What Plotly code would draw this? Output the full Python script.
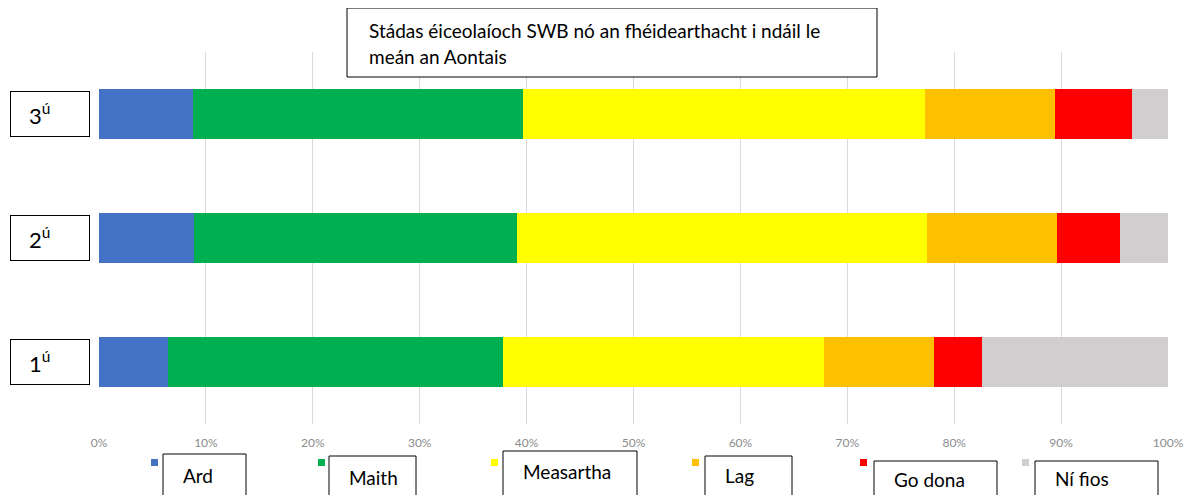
import plotly.graph_objects as go

# data (percent of water bodies)
categories = ["1ú", "2ú", "3ú"]
series_names = ["Ard", "Maith", "Measartha", "Lag", "Go dona", "Ní fios"]
ard = [6.5, 8.9, 8.8]
maith = [31.3, 30.2, 30.9]
measartha = [30.0, 38.4, 37.6]
lag = [10.3, 12.1, 12.1]
go_dona = [4.5, 5.9, 7.2]
ni_fios = [17.4, 4.5, 3.4]
x_ticks = [0, 10, 20, 30, 40, 50, 60, 70, 80, 90, 100]
x_tick_labels = [f"{v}%" for v in x_ticks]
title_lines = ["Stádas éiceolaíoch SWB nó an fhéidearthacht i ndáil le", "meán an Aontais"]

colors = ["#4472C4", "#00B050", "#FFFF00", "#FFC000", "#FF0000", "#D0CECE"]
series = [ard, maith, measartha, lag, go_dona, ni_fios]

FONT = "Lato"
W, H = 1192, 495
OFF = 8  # page body margin
L, R, T, B = 99 - OFF, 1168 - OFF, 52 - OFF, 424 - OFF


def px(x):
    return (x - OFF - L) / (R - L)


def py(y):
    return (B - (y - OFF)) / (B - T)


fig = go.Figure()
for name, vals, col in zip(series_names, series, colors):
    fig.add_trace(go.Bar(y=categories, x=vals, name=name, orientation="h",
                         marker=dict(color=col, line=dict(width=0)), width=0.4))

fig.update_layout(
    barmode="stack", width=W, height=H, showlegend=False,
    margin=dict(l=L, r=W - R, t=T, b=H - B),
    plot_bgcolor="white", paper_bgcolor="white",
    font=dict(family=FONT, color="black"),
)
fig.update_xaxes(range=[0, 100], tickvals=x_ticks, ticktext=x_tick_labels, showgrid=True,
                 gridcolor="#d9d9d9", gridwidth=1, zeroline=False, showline=False,
                 tickfont=dict(size=12, color="#8c8c8c"), ticklabelstandoff=10)
fig.update_yaxes(range=[-0.5, 2.5], showticklabels=False, showgrid=False, zeroline=False)

# title box
fig.add_shape(type="rect", xref="paper", yref="paper", x0=px(347), x1=px(877),
              y0=py(77), y1=py(8), line=dict(color="black", width=1), fillcolor="white")
for i, line in enumerate(title_lines):
    fig.add_annotation(xref="paper", yref="paper", x=px(367), y=py(30 + 27 * i),
                       xanchor="left", yanchor="middle", showarrow=False, text=line,
                       font=dict(size=19, color="black"))

# category label boxes
for cat in categories:
    fig.add_annotation(xref="paper", yref="y", x=px(10), y=cat, xanchor="left",
                       yanchor="middle", showarrow=False,
                       text="&nbsp;&nbsp;&nbsp;" + cat[0] + "<sup>" + cat[1:] + "</sup>",
                       align="left", width=76, height=42, borderpad=1,
                       bordercolor="black", borderwidth=1, bgcolor="white",
                       font=dict(size=22, color="black"))

# legend: small coloured keys with boxed labels
key_x = [151, 318, 491, 692, 860, 1022]
box_x0 = [163, 329, 503, 705, 874, 1035]
box_x1 = [246, 416, 637, 792, 997, 1158]
box_top = [454, 456, 451, 456, 461, 461]
text_y = [476, 477, 472, 476, 479, 478]
for name, col, kx, b0, b1, bt, ty in zip(series_names, colors, key_x, box_x0, box_x1,
                                         box_top, text_y):
    fig.add_shape(type="rect", xref="paper", yref="paper", x0=px(kx), x1=px(kx + 7),
                  y0=py(466), y1=py(459), line=dict(width=0), fillcolor=col)
    fig.add_shape(type="rect", xref="paper", yref="paper", x0=px(b0), x1=px(b1),
                  y0=py(520), y1=py(bt), line=dict(color="black", width=1), fillcolor="white")
    fig.add_annotation(xref="paper", yref="paper", x=px(b0 + 18), y=py(ty),
                       xanchor="left", yanchor="middle", showarrow=False, text=name,
                       font=dict(size=19, color="black"))

fig.write_html("out.html")
